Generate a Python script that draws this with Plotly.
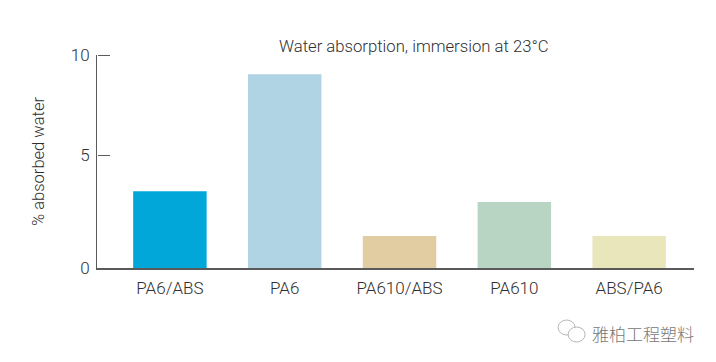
import plotly.graph_objects as go

categories = ["PA6/ABS", "PA6", "PA610/ABS", "PA610", "ABS/PA6"]
values = [3.6, 9.1, 1.5, 3.1, 1.5]
colors = ["#00a7d8", "#b0d4e4", "#e2cda2", "#b8d5c3", "#e9e6bc"]
tick_positions = [0, 5.3, 10]
tick_labels = ["0", "5", "10"]
FONT = "Roboto"
TEXT = "#2f2f2f"
AXIS = "#5a5a5a"

# the page adds an 8px body margin, so the figure is inset by 8px
OFF = 8
L, R, T, B = 96.5, 694, 55, 268
W, H = 700, 346
PW, PH = R - L, B - T


def px(x):
    return (x - L) / PW


def py(y):
    return (B - y) / PH


fig = go.Figure(go.Bar(x=categories, y=values, width=0.64,
                       marker=dict(color=colors, line=dict(width=0))))
# carrier for the overlaid tick axis
fig.add_trace(go.Scatter(x=categories, y=values, yaxis="y2", mode="none",
                         hoverinfo="skip", showlegend=False))
fig.update_layout(
    width=W, height=H, autosize=False,
    margin=dict(l=L - OFF, r=W + OFF - R, t=T - OFF, b=H + OFF - B),
    paper_bgcolor="white", plot_bgcolor="white", showlegend=False,
    font=dict(family=FONT, color=TEXT, weight=300),
    xaxis=dict(type="category", range=[-0.635, 4.565], showgrid=False, ticks="",
               showline=True, linecolor=AXIS, linewidth=1.5, ticklabelstandoff=4,
               tickfont=dict(size=17, family=FONT, color=TEXT, weight=300)),
    yaxis=dict(range=[0, 10], tickmode="array", tickvals=tick_positions, ticktext=tick_labels,
               showgrid=False, zeroline=False, ticks="", ticklabelstandoff=3,
               showline=True, linecolor=AXIS, linewidth=1,
               tickfont=dict(size=17, family=FONT, color=TEXT, weight=300),
               title=dict(text="% absorbed water", standoff=21,
                          font=dict(size=16.5, family=FONT, color=TEXT, weight=300))),
    yaxis2=dict(range=[0, 10], overlaying="y", side="right", anchor="free", position=0,
                tickmode="array", tickvals=tick_positions, showticklabels=False,
                ticks="outside", ticklen=12, tickcolor=AXIS, tickwidth=1,
                showgrid=False, zeroline=False, showline=False),
)
fig.add_annotation(text="Water absorption, immersion at 23°C", xref="paper", yref="paper",
                   x=px(413.5), y=py(46), xanchor="center", yanchor="middle", showarrow=False,
                   font=dict(size=16.7, family=FONT, color=TEXT, weight=300))
fig.add_annotation(text="雅柏工程塑料", xref="paper", yref="paper",
                   x=px(643), y=py(333), xanchor="center", yanchor="middle", showarrow=False,
                   font=dict(size=17, family="Noto Sans CJK SC", color="#777777"))
# WeChat-style watermark icon
for x0, y0, x1, y1 in [(558, 320, 575, 335), (568, 327, 585, 342)]:
    fig.add_shape(type="circle", xref="paper", yref="paper",
                  x0=px(x0), x1=px(x1), y0=py(y0), y1=py(y1),
                  line=dict(color="#b5b5b5", width=1), fillcolor="rgba(255,255,255,0.85)")
fig.write_html("out.html")
